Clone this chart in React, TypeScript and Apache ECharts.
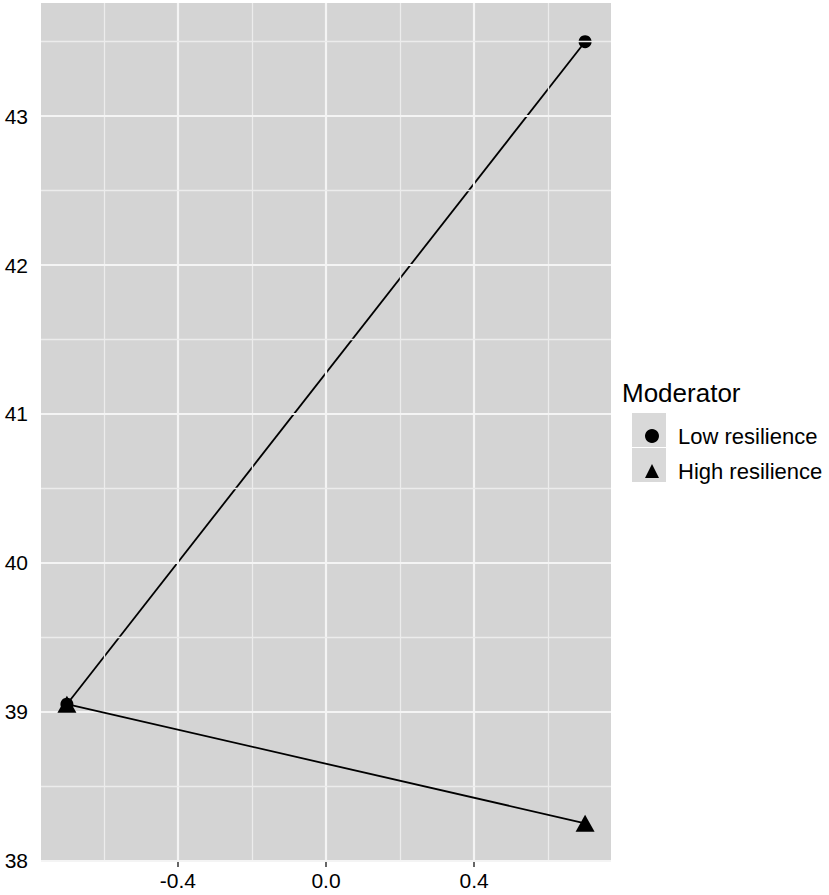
import React, { useEffect, useRef } from "react";
import * as echarts from "echarts";

const seriesNames = ["Low resilience", "High resilience"];
const xValues = [-0.7, 0.7];
const lowValues = [39.05, 43.5];
const highValues = [39.05, 38.25];
const xTicks = [-0.4, 0.0, 0.4];
const xMinor = [-0.6, -0.2, 0.2, 0.6];
const yTicks = [38, 39, 40, 41, 42, 43];
const yMinor = [38.5, 39.5, 40.5, 41.5, 42.5, 43.5];
const legendTitle = "Moderator";

const FONT = "Liberation Sans, Arial, sans-serif";

export default function App() {
  const ref = useRef<HTMLDivElement>(null);
  useEffect(() => {
    if (!ref.current) return;
    const chart = echarts.init(ref.current, undefined, { renderer: "svg" });
    const major = { color: "#f4f4f4", width: 2.2, type: "solid" };
    const minor = { color: "#ececec", width: 1.3, type: "solid" };
    const gridLines = [
      ...xTicks.map((v) => ({ xAxis: v, lineStyle: major })),
      ...xMinor.map((v) => ({ xAxis: v, lineStyle: minor })),
      ...yTicks.map((v) => ({ yAxis: v, lineStyle: major })),
      ...yMinor.map((v) => ({ yAxis: v, lineStyle: minor })),
    ];
    chart.setOption({
      animation: false,
      textStyle: { fontFamily: FONT },
      grid: {
        left: 41,
        right: 218,
        top: 3,
        bottom: 33,
        show: true,
        backgroundColor: "#d4d4d4",
        borderWidth: 0,
      },
      xAxis: {
        type: "value",
        min: -0.77,
        max: 0.77,
        axisLine: { show: false },
        splitLine: { show: false },
        axisTick: {
          show: true,
          customValues: xTicks,
          length: 5,
          lineStyle: { color: "#333", width: 1.5 },
        },
        axisLabel: {
          customValues: xTicks,
          formatter: (v: number) => v.toFixed(1),
          fontSize: 21,
          color: "#000",
          margin: 8,
          fontFamily: FONT,
        },
      },
      yAxis: {
        type: "value",
        min: 37.99,
        max: 43.76,
        axisLine: { show: false },
        splitLine: { show: false },
        axisTick: {
          show: true,
          customValues: yTicks,
          length: 5,
          lineStyle: { color: "#333", width: 1.5 },
        },
        axisLabel: {
          customValues: yTicks,
          fontSize: 21,
          color: "#000",
          margin: 13,
          fontFamily: FONT,
        },
      },
      legend: {
        orient: "vertical",
        left: 640,
        top: 420,
        itemWidth: 14,
        itemHeight: 14,
        itemGap: 13,
        data: [
          { name: seriesNames[0], icon: "circle" },
          { name: seriesNames[1], icon: "triangle" },
        ],
        textStyle: {
          fontSize: 22,
          lineHeight: 22,
          color: "#000",
          fontFamily: FONT,
          padding: [0, 0, 0, 14],
        },
        itemStyle: { color: "#000" },
      },
      graphic: [
        {
          type: "text",
          left: 622,
          top: 380,
          style: {
            text: legendTitle,
            fontSize: 26,
            fontFamily: FONT,
            fill: "#000",
          },
        },
        {
          type: "rect",
          shape: { x: 632, y: 413, width: 34, height: 34 },
          style: { fill: "#d9d9d9" },
          z: -1,
        },
        {
          type: "rect",
          shape: { x: 632, y: 448, width: 34, height: 34 },
          style: { fill: "#d9d9d9" },
          z: -1,
        },
      ],
      series: [
        {
          type: "line",
          name: "grid",
          data: [],
          silent: true,
          z: 1,
          markLine: {
            silent: true,
            symbol: "none",
            label: { show: false },
            emphasis: { disabled: true },
            data: gridLines,
          },
        },
        {
          type: "line",
          name: seriesNames[0],
          data: xValues.map((x, i) => [x, lowValues[i]]),
          symbol: "circle",
          symbolSize: 13,
          lineStyle: { color: "#000", width: 1.8 },
          itemStyle: { color: "#000" },
          z: 3,
        },
        {
          type: "line",
          name: seriesNames[1],
          data: xValues.map((x, i) => [x, highValues[i]]),
          symbol: "triangle",
          symbolSize: [19, 17],
          lineStyle: { color: "#000", width: 1.8 },
          itemStyle: { color: "#000" },
          z: 5,
          zlevel: 0,
        },
      ],
    });
    return () => chart.dispose();
  }, []);
  return (
    <div
      ref={ref}
      style={{ position: "absolute", left: 0, top: 0, width: 829, height: 895, background: "#fff" }}
    />
  );
}
